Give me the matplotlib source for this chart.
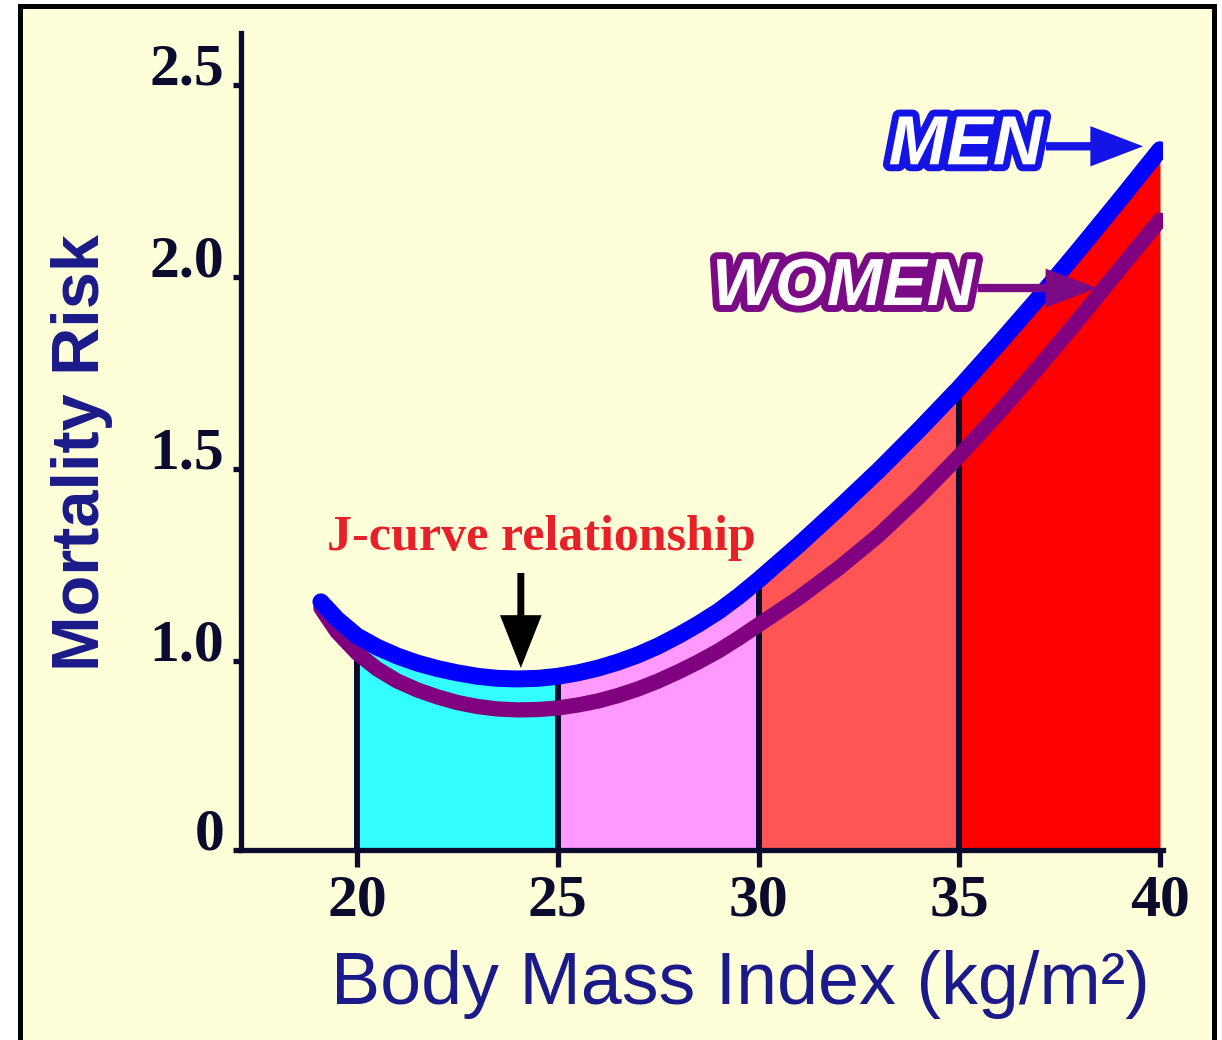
import numpy as np
import matplotlib
matplotlib.use("Agg")
import matplotlib.pyplot as plt
from matplotlib.patches import Rectangle
import matplotlib.patheffects as pe

# mortality risk along BMI for men and women
bmi = np.array([19.1, 19.5, 20, 20.5, 21, 21.5, 22, 22.5, 23, 23.5, 24,
                24.5, 25, 25.5, 26, 26.5, 27, 27.5, 28, 28.5, 29, 29.5,
                30, 31, 32, 33, 34, 35, 36, 37, 38, 39, 40])
men = np.array([1.154, 1.109, 1.065, 1.036, 1.013, 0.989, 0.960, 0.937,
                0.919, 0.908, 0.905, 0.908, 0.919, 0.937, 0.962, 0.994,
                1.016, 1.039, 1.066, 1.096, 1.129, 1.168, 1.211, 1.302,
                1.398, 1.497, 1.602, 1.711, 1.828, 1.948, 2.073, 2.201,
                2.331])
women = np.array([1.138, 1.076, 1.021, 0.958, 0.894, 0.847, 0.810, 0.780,
                  0.759, 0.746, 0.741, 0.743, 0.751, 0.767, 0.788, 0.817,
                  0.852, 0.894, 0.942, 0.995, 1.026, 1.059, 1.094, 1.164,
                  1.242, 1.328, 1.427, 1.534, 1.648, 1.768, 1.893, 2.021,
                  2.148])

band_edges = [20, 25, 30, 35, 40]
band_colors = ["#33FFFF", "#FF99FF", "#FF5555", "#FF0000"]

x_ticks = [20, 25, 30, 35, 40]
y_ticks = [0, 1.0, 1.5, 2.0, 2.5]
y_tick_labels = ["0", "1.0", "1.5", "2.0", "2.5"]

BG = "#FEFED9"
INK = "#0B0B2E"
NAVY = "#1A1A8A"

# the 0-1 stretch of the risk axis is squeezed
LOW = 189 / 384


def fwd(y):
    y = np.asarray(y, dtype=float)
    return np.where(y < 1, y * LOW, LOW + (y - 1))


def inv(u):
    u = np.asarray(u, dtype=float)
    return np.where(u < LOW, u / LOW, 1 + (u - LOW))


fig = plt.figure(figsize=(12.22, 10.4), dpi=100, facecolor="white")
fig.add_artist(Rectangle((20 / 1222, -0.05), 1194 / 1222, 1.05 - 6 / 1040,
                         transform=fig.transFigure, fc=BG, ec="black",
                         lw=3.6, zorder=0))

ax = fig.add_axes([241 / 1222, 190 / 1040, 922 / 1222, 817 / 1040])
ax.patch.set_visible(False)
ax.set_yscale("function", functions=(fwd, inv))
ax.set_xlim(17.11, 40.075)
ax.set_ylim(0, 2.635)

for lo, hi, c in zip(band_edges[:-1], band_edges[1:], band_colors):
    m = (bmi >= lo) & (bmi <= hi)
    ax.fill_between(bmi[m], 0, men[m], color=c, lw=0, zorder=1)

men_at = dict(zip(bmi, men))
ax.vlines(band_edges[:-1], 0, [men_at[e] for e in band_edges[:-1]],
          color=INK, lw=4.3, zorder=2)

ax.plot(bmi, women, color="#800080", lw=11, solid_capstyle="round",
        solid_joinstyle="round", zorder=3)
ax.plot(bmi, men, color="#0000FF", lw=12.2, solid_capstyle="round",
        solid_joinstyle="round", zorder=4)

for side in ["top", "right"]:
    ax.spines[side].set_visible(False)
for side in ["left", "bottom"]:
    ax.spines[side].set_linewidth(3.8)
    ax.spines[side].set_color(INK)

tick_font = dict(family="Liberation Serif", fontweight="bold", fontsize=43,
                 color=INK)
ax.set_xticks(x_ticks, [str(t) for t in x_ticks], **tick_font)
ax.set_yticks(y_ticks, y_tick_labels, va="baseline", **tick_font)
ax.yaxis.set_minor_locator(matplotlib.ticker.NullLocator())
ax.tick_params(axis="x", length=12, width=3.8, color=INK, pad=6)
ax.tick_params(axis="y", length=6, width=3.8, color=INK, pad=6)

ax.set_xlabel("Body Mass Index (kg/m²)", family="Liberation Sans",
              fontsize=53, color=NAVY, va="center")
ax.xaxis.set_label_coords(0.542, -0.165)
ax.set_ylabel("Mortality Risk", family="Liberation Sans", fontweight="bold",
              fontsize=48, color=NAVY, va="center")
ax.yaxis.set_label_coords(-0.172, 0.486)

ax.text(24.6, 1.32, "J-curve relationship", family="Liberation Serif",
        fontweight="bold", fontsize=36, color="#E8202A", ha="center",
        va="center", zorder=5)
ax.annotate("", xy=(24.08, 0.963), xytext=(24.08, 1.229),
            arrowprops=dict(arrowstyle="simple,head_length=38,head_width=30,tail_width=5",
                            mutation_scale=1, fc="black", ec="none",
                            shrinkA=0, shrinkB=0), zorder=5)

label_font = dict(family="Liberation Sans", fontweight="bold",
                  fontstyle="italic", color="white", ha="right", va="center")
ax.annotate("MEN", xy=(39.58, 2.34), xytext=(37.09, 2.34), fontsize=50,
            path_effects=[pe.withStroke(linewidth=10, foreground="#1414E6")],
            arrowprops=dict(arrowstyle="simple,head_length=38,head_width=29,tail_width=6",
                            mutation_scale=1, fc="#1414E6", ec="none",
                            shrinkA=0, shrinkB=0, relpos=(1, 0.5)),
            zorder=6, **label_font)
ax.annotate("WOMEN", xy=(38.43, 1.971), xytext=(35.39, 1.971), fontsize=48,
            path_effects=[pe.withStroke(linewidth=10, foreground="#7A0A86")],
            arrowprops=dict(arrowstyle="simple,head_length=37,head_width=28,tail_width=6",
                            mutation_scale=1, fc="#7A0A86", ec="none",
                            shrinkA=0, shrinkB=0, relpos=(1, 0.5)),
            zorder=6, **label_font)

fig.savefig("out.png", dpi=100, facecolor="white")
